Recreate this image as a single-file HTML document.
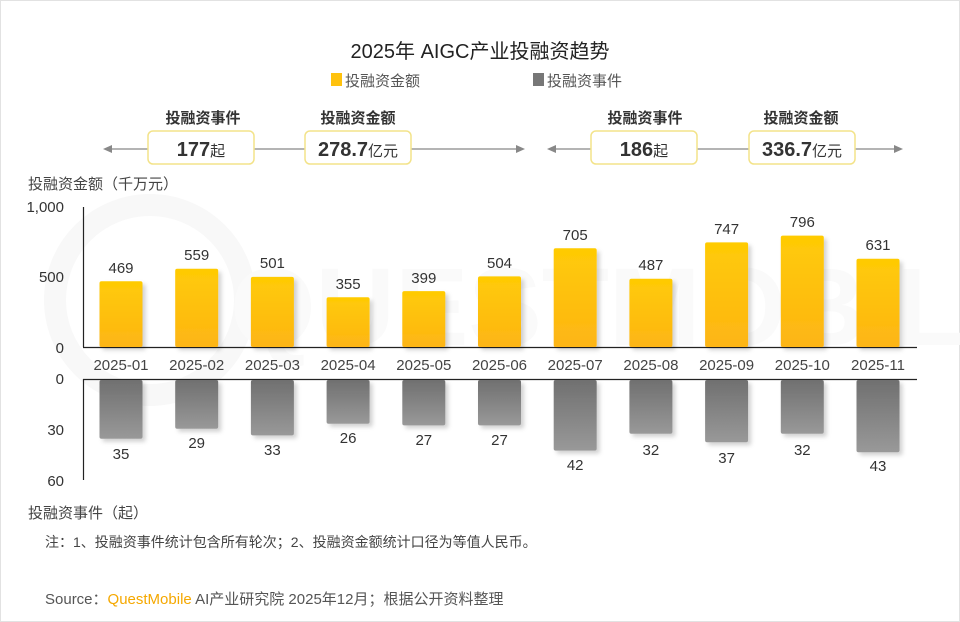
<!DOCTYPE html>
<html><head><meta charset="utf-8"><style>
html,body{margin:0;padding:0;background:#fff}
svg{display:block}
text{font-family:"Liberation Sans","Noto Sans CJK SC",sans-serif}
</style></head><body>
<svg width="960" height="622" viewBox="0 0 960 622" xmlns="http://www.w3.org/2000/svg">
<defs>
<linearGradient id="gy" x1="0" y1="0" x2="0" y2="1"><stop offset="0" stop-color="#ffcb05"/><stop offset="1" stop-color="#fdb515"/></linearGradient>
<linearGradient id="gg" x1="0" y1="0" x2="0" y2="1"><stop offset="0" stop-color="#707070"/><stop offset="1" stop-color="#999"/></linearGradient>
<filter id="sh" x="-20%" y="-20%" width="150%" height="150%"><feDropShadow dx="3" dy="3" stdDeviation="2" flood-color="#000" flood-opacity="0.18"/></filter>
</defs>
<rect x="0.5" y="0.5" width="959" height="621" fill="#fff" stroke="#e2e2e2"/>
<!-- watermark -->
<circle cx="150" cy="300" r="95" fill="none" stroke="#f8f8f8" stroke-width="22"/>
<text x="230" y="345" font-size="110" fill="#fafafa" font-weight="bold">QUESTMOBILE</text>
<text x="480" y="58" font-size="20" text-anchor="middle" fill="#222">2025年 AIGC产业投融资趋势</text>
<rect x="331" y="73" width="11" height="13" fill="#ffc20e"/>
<text x="345" y="86" font-size="15" fill="#555">投融资金额</text>
<rect x="533" y="73" width="11" height="13" fill="#777"/>
<text x="547" y="86" font-size="15" fill="#555">投融资事件</text>
<g stroke="#888" stroke-width="1.2">
<line x1="108" y1="149" x2="520" y2="149"/><line x1="552" y1="149" x2="898" y2="149"/></g>
<g fill="#888"><polygon points="103,149 112,145 112,153"/><polygon points="525,149 516,145 516,153"/><polygon points="547,149 556,145 556,153"/><polygon points="903,149 894,145 894,153"/></g>
<g fill="#fff" stroke="#f3e38a" stroke-width="1.5">
<rect x="148" y="131" width="106" height="33" rx="5"/><rect x="305" y="131" width="106" height="33" rx="5"/>
<rect x="591" y="131" width="106" height="33" rx="5"/><rect x="749" y="131" width="106" height="33" rx="5"/></g>
<g font-size="15" font-weight="bold" fill="#333" text-anchor="middle">
<text x="203" y="123">投融资事件</text><text x="358" y="123">投融资金额</text>
<text x="645" y="123">投融资事件</text><text x="801" y="123">投融资金额</text></g>
<g font-size="20" font-weight="bold" fill="#333" text-anchor="middle">
<text x="201" y="156">177<tspan font-size="15" font-weight="normal">起</tspan></text>
<text x="358" y="156">278.7<tspan font-size="15" font-weight="normal">亿元</tspan></text>
<text x="644" y="156">186<tspan font-size="15" font-weight="normal">起</tspan></text>
<text x="802" y="156">336.7<tspan font-size="15" font-weight="normal">亿元</tspan></text></g>
<text x="28" y="189" font-size="15" fill="#444">投融资金额（千万元）</text>
<g font-size="15" fill="#333" text-anchor="end">
<text x="64" y="212">1,000</text><text x="64" y="282">500</text><text x="64" y="353">0</text>
<text x="64" y="384">0</text><text x="64" y="435">30</text><text x="64" y="486">60</text></g>
<g stroke="#222" stroke-width="1.2">
<line x1="83.5" y1="207" x2="83.5" y2="347"/><line x1="83" y1="347.5" x2="917" y2="347.5"/>
<line x1="83" y1="379.5" x2="917" y2="379.5"/><line x1="83.5" y1="379" x2="83.5" y2="480"/></g>
<g fill="url(#gy)" filter="url(#sh)">
<rect x="99.5" y="281.3" width="43" height="65.7" rx="2"/>
<rect x="175.2" y="268.7" width="43" height="78.3" rx="2"/>
<rect x="250.9" y="276.9" width="43" height="70.1" rx="2"/>
<rect x="326.6" y="297.3" width="43" height="49.7" rx="2"/>
<rect x="402.3" y="291.1" width="43" height="55.9" rx="2"/>
<rect x="478" y="276.4" width="43" height="70.6" rx="2"/>
<rect x="553.7" y="248.3" width="43" height="98.7" rx="2"/>
<rect x="629.4" y="278.8" width="43" height="68.2" rx="2"/>
<rect x="705.1" y="242.4" width="43" height="104.6" rx="2"/>
<rect x="780.8" y="235.6" width="43" height="111.4" rx="2"/>
<rect x="856.5" y="258.7" width="43" height="88.3" rx="2"/></g>
<g font-size="15" fill="#333" text-anchor="middle">
<text x="121" y="273">469</text><text x="196.7" y="260">559</text><text x="272.4" y="268">501</text><text x="348.1" y="289">355</text><text x="423.8" y="283">399</text><text x="499.5" y="268">504</text><text x="575.2" y="240">705</text><text x="650.9" y="270">487</text><text x="726.6" y="234">747</text><text x="802.3" y="227">796</text><text x="878" y="250">631</text></g>
<g font-size="15" fill="#444" text-anchor="middle">
<text x="121" y="370">2025-01</text><text x="196.7" y="370">2025-02</text><text x="272.4" y="370">2025-03</text><text x="348.1" y="370">2025-04</text><text x="423.8" y="370">2025-05</text><text x="499.5" y="370">2025-06</text><text x="575.2" y="370">2025-07</text><text x="650.9" y="370">2025-08</text><text x="726.6" y="370">2025-09</text><text x="802.3" y="370">2025-10</text><text x="878" y="370">2025-11</text></g>
<g fill="url(#gg)" filter="url(#sh)">
<rect x="99.5" y="380" width="43" height="58.8" rx="2"/>
<rect x="175.2" y="380" width="43" height="48.7" rx="2"/>
<rect x="250.9" y="380" width="43" height="55.4" rx="2"/>
<rect x="326.6" y="380" width="43" height="43.7" rx="2"/>
<rect x="402.3" y="380" width="43" height="45.4" rx="2"/>
<rect x="478" y="380" width="43" height="45.4" rx="2"/>
<rect x="553.7" y="380" width="43" height="70.6" rx="2"/>
<rect x="629.4" y="380" width="43" height="53.8" rx="2"/>
<rect x="705.1" y="380" width="43" height="62.2" rx="2"/>
<rect x="780.8" y="380" width="43" height="53.8" rx="2"/>
<rect x="856.5" y="380" width="43" height="72.2" rx="2"/></g>
<g font-size="15" fill="#333" text-anchor="middle">
<text x="121" y="459">35</text><text x="196.7" y="448">29</text><text x="272.4" y="455">33</text><text x="348.1" y="443">26</text><text x="423.8" y="445">27</text><text x="499.5" y="445">27</text><text x="575.2" y="470">42</text><text x="650.9" y="455">32</text><text x="726.6" y="463">37</text><text x="802.3" y="455">32</text><text x="878" y="471">43</text></g>
<text x="28" y="518" font-size="15" fill="#444">投融资事件（起）</text>
<text x="45" y="547" font-size="14" fill="#444">注：1、投融资事件统计包含所有轮次；2、投融资金额统计口径为等值人民币。</text>
<text x="45" y="604" font-size="15" fill="#555">Source：<tspan fill="#f5a800">QuestMobile</tspan> AI产业研究院 2025年12月；根据公开资料整理</text>
</svg>
</body></html>
